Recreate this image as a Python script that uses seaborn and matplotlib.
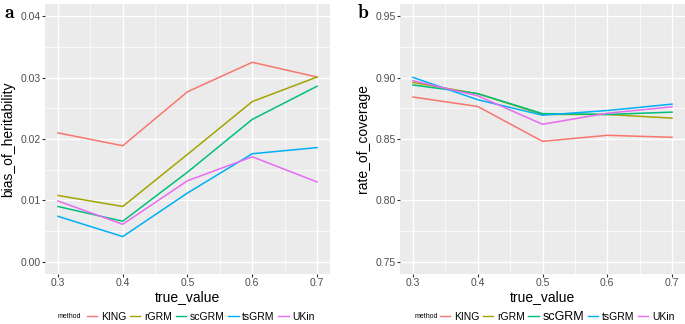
import pandas as pd
import matplotlib
matplotlib.use("Agg")
import matplotlib.pyplot as plt
from matplotlib.ticker import MultipleLocator
import seaborn as sns

# values
true_value = [0.3, 0.4, 0.5, 0.6, 0.7]
methods = ["KING", "rGRM", "scGRM", "tsGRM", "UKin"]
colors = ["#F8766D", "#A3A500", "#00BF7D", "#00B0F6", "#E76BF3"]

bias_king = [0.0210, 0.0189, 0.0277, 0.0325, 0.0301]
bias_rgrm = [0.0108, 0.0090, 0.0175, 0.0261, 0.0301]
bias_scgrm = [0.0090, 0.0066, 0.0146, 0.0232, 0.0286]
bias_tsgrm = [0.0074, 0.0041, 0.0112, 0.0176, 0.0186]
bias_ukin = [0.0099, 0.0061, 0.0132, 0.0171, 0.0130]

cov_king = [0.8842, 0.8765, 0.8481, 0.8530, 0.8514]
cov_rgrm = [0.8960, 0.8869, 0.8700, 0.8700, 0.8670]
cov_scgrm = [0.8940, 0.8870, 0.8707, 0.8700, 0.8719]
cov_tsgrm = [0.9002, 0.8820, 0.8694, 0.8732, 0.8784]
cov_ukin = [0.8975, 0.8852, 0.8620, 0.8710, 0.8762]

bias_ticks = [0.00, 0.01, 0.02, 0.03, 0.04]
cov_ticks = [0.75, 0.80, 0.85, 0.90, 0.95]

bias = [bias_king, bias_rgrm, bias_scgrm, bias_tsgrm, bias_ukin]
cov = [cov_king, cov_rgrm, cov_scgrm, cov_tsgrm, cov_ukin]

rows = []
for m, b, c in zip(methods, bias, cov):
    for t, bv, cv in zip(true_value, b, c):
        rows.append({"method": m, "true_value": t,
                     "bias_of_heritability": bv, "rate_of_coverage": cv})
df = pd.DataFrame(rows)

plt.rcParams["font.family"] = ["Liberation Sans", "DejaVu Sans"]
plt.rcParams["mathtext.fontset"] = "cm"

W, H = 685, 324
fig = plt.figure(figsize=(W / 100, H / 100), dpi=100)


def px_axes(l, r, t, b):
    return fig.add_axes([l / W, 1 - b / H, (r - l) / W, (b - t) / H])


ax_a = px_axes(45, 330, 4, 274)
ax_b = px_axes(400, 685, 4, 274)

palette = dict(zip(methods, colors))

panels = [
    (ax_a, "bias_of_heritability", (-0.002, 0.042), bias_ticks, 0.005, 0.547, 58, "a", 4),
    (ax_b, "rate_of_coverage", (0.74, 0.96), cov_ticks, 0.025, 0.551, 415, "b", 357),
]

for ax, col, ylim, yticks, minor, leg_x, meth_x, letter, let_x in panels:
    ax.set_facecolor("#EBEBEB")
    sns.lineplot(data=df, x="true_value", y=col, hue="method", palette=palette,
                 hue_order=methods, linewidth=1.1, ax=ax)
    ax.set_xlim(0.28, 0.72)
    ax.set_ylim(*ylim)
    ax.xaxis.set_minor_locator(MultipleLocator(0.05))
    ax.yaxis.set_minor_locator(MultipleLocator(minor))
    ax.set_yticks(yticks)
    ax.set_yticklabels([f"{v:.2f}" for v in yticks])
    ax.set_xticks(true_value)
    ax.set_xticklabels([f"{v:.1f}" for v in true_value])
    ax.grid(which="major", color="white", linewidth=1.0)
    ax.grid(which="minor", color="white", linewidth=0.5)
    ax.set_axisbelow(True)
    for s in ax.spines.values():
        s.set_visible(False)
    ax.tick_params(which="major", length=2.0, width=0.8, color="#333333",
                   labelcolor="#4D4D4D", labelsize=7.5, pad=1.0)
    ax.tick_params(which="minor", length=0)
    ax.set_xlabel("true_value", fontsize=10)
    ax.set_ylabel(col, fontsize=10)
    ax.xaxis.set_label_coords(0.5, -0.06)
    ax.yaxis.set_label_coords(-0.105, 0.5)

    handles, labels = ax.get_legend_handles_labels()
    ax.get_legend().remove()
    leg = ax.legend(handles, labels, loc="center", bbox_to_anchor=(leg_x, -0.158),
                    ncol=5, frameon=False, fontsize=7.5, handlelength=1.0,
                    handletextpad=0.35, columnspacing=0.35, borderaxespad=0)
    for h in leg.get_lines():
        h.set_linewidth(1.0)
    if letter == "b":
        leg.get_texts()[2].set_fontsize(9)
    fig.text(meth_x / W, 1 - 317 / H, "method", fontsize=5, va="center", ha="left")
    fig.text(let_x / W, 1 - 13 / H, r"$\mathbf{%s}$" % letter, fontsize=14,
             va="center", ha="left")

fig.savefig("out.png", dpi=100)
